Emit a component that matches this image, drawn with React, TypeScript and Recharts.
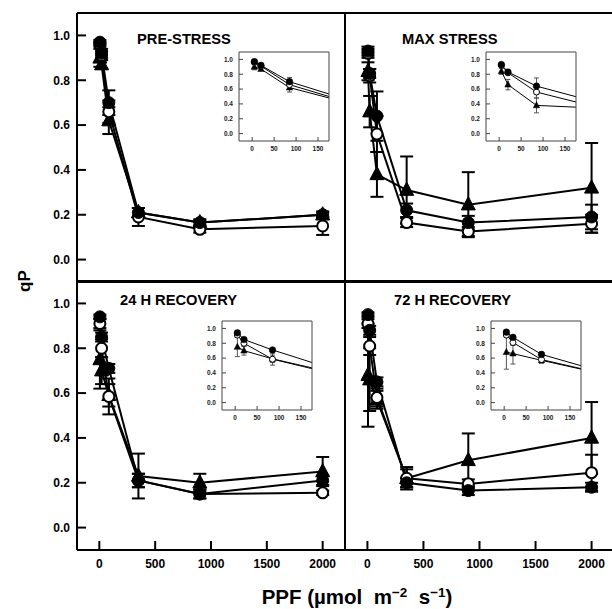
import React from 'react';
import { LineChart, Line, XAxis, YAxis, ErrorBar } from 'recharts';

// ---------- data ----------
const PPF = [5, 20, 85, 350, 900, 2000];
const X_TICKS = [0, 500, 1000, 1500, 2000];
const Y_TICKS = [0, 0.2, 0.4, 0.6, 0.8, 1.0];
const INSET_X_TICKS = [0, 50, 100, 150];

const PRE_FILLED = [0.97, 0.92, 0.70, 0.21, 0.165, 0.20];
const PRE_FILLED_ERR = [0.01, 0.02, 0.055, 0.02, 0.015, 0.015];
const PRE_OPEN = [0.96, 0.91, 0.66, 0.19, 0.135, 0.15];
const PRE_OPEN_ERR = [0.01, 0.02, 0.05, 0.04, 0.015, 0.04];
const PRE_TRI = [0.90, 0.87, 0.62, 0.21, 0.165, 0.20];
const PRE_TRI_ERR = [0.04, 0.02, 0.06, 0.02, 0.01, 0.01];

const MAX_FILLED = [0.93, 0.83, 0.64, 0.22, 0.165, 0.19];
const MAX_FILLED_ERR = [0.02, 0.02, 0.11, 0.03, 0.03, 0.055];
const MAX_OPEN = [0.92, 0.82, 0.56, 0.165, 0.125, 0.16];
const MAX_OPEN_ERR = [0.02, 0.03, 0.08, 0.02, 0.02, 0.04];
const MAX_TRI = [0.84, 0.66, 0.38, 0.31, 0.245, 0.32];
const MAX_TRI_ERR = [0.04, 0.07, 0.10, 0.15, 0.145, 0.20];

const R24_FILLED = [0.94, 0.85, 0.71, 0.21, 0.15, 0.21];
const R24_FILLED_ERR = [0.01, 0.02, 0.02, 0.03, 0.02, 0.02];
const R24_OPEN = [0.91, 0.80, 0.585, 0.21, 0.15, 0.155];
const R24_OPEN_ERR = [0.02, 0.04, 0.08, 0.03, 0.02, 0.01];
const R24_TRI = [0.75, 0.70, 0.59, 0.23, 0.20, 0.25];
const R24_TRI_ERR = [0.13, 0.06, 0.05, 0.10, 0.04, 0.065];

const R72_FILLED = [0.95, 0.88, 0.65, 0.20, 0.165, 0.18];
const R72_FILLED_ERR = [0.01, 0.02, 0.02, 0.02, 0.02, 0.02];
const R72_OPEN = [0.91, 0.81, 0.58, 0.22, 0.195, 0.245];
const R72_OPEN_ERR = [0.02, 0.04, 0.04, 0.05, 0.02, 0.08];
const R72_TRI = [0.68, 0.66, 0.57, 0.22, 0.30, 0.40];
const R72_TRI_ERR = [0.23, 0.14, 0.04, 0.04, 0.12, 0.16];

const TITLES = ['PRE-STRESS', 'MAX STRESS', '24 H RECOVERY', '72 H RECOVERY'];

type Row = { x: number; fc: number; fcE: number; oc: number; ocE: number; tr: number; trE: number };

function buildRows(fc: number[], fcE: number[], oc: number[], ocE: number[], tr: number[], trE: number[]): Row[] {
  return PPF.map((x, i) => ({ x, fc: fc[i], fcE: fcE[i], oc: oc[i], ocE: ocE[i], tr: tr[i], trE: trE[i] }));
}

const DATASETS: Row[][] = [
  buildRows(PRE_FILLED, PRE_FILLED_ERR, PRE_OPEN, PRE_OPEN_ERR, PRE_TRI, PRE_TRI_ERR),
  buildRows(MAX_FILLED, MAX_FILLED_ERR, MAX_OPEN, MAX_OPEN_ERR, MAX_TRI, MAX_TRI_ERR),
  buildRows(R24_FILLED, R24_FILLED_ERR, R24_OPEN, R24_OPEN_ERR, R24_TRI, R24_TRI_ERR),
  buildRows(R72_FILLED, R72_FILLED_ERR, R72_OPEN, R72_OPEN_ERR, R72_TRI, R72_TRI_ERR),
];

// ---------- layout ----------
const FONT = '"Liberation Sans", Arial, Helvetica, sans-serif';

const PANELS = [
  { left: 77, top: 13, w: 268, h: 269, showX: false, showY: true, inset: { left: 239, top: 52 }, title: { x: 137, y: 43.5 } },
  { left: 345, top: 13, w: 269, h: 269, showX: false, showY: false, inset: { left: 486, top: 52 }, title: { x: 402, y: 43.5 } },
  { left: 77, top: 281, w: 268, h: 269, showX: true, showY: true, inset: { left: 222, top: 321 }, title: { x: 120, y: 304.5 } },
  { left: 345, top: 281, w: 269, h: 269, showX: true, showY: false, inset: { left: 491, top: 321 }, title: { x: 394, y: 304.5 } },
];

const INSET_W = 90;
const INSET_H = 89;

const makeTri = (hw: number, sw: number) => (props: any) => {
  const { cx, cy, index } = props;
  if (cx == null || cy == null) return <g key={`t${index}`} />;
  const pts = `${cx},${cy - hw * 1.15} ${cx + hw},${cy + hw * 0.75} ${cx - hw},${cy + hw * 0.75}`;
  return <polygon key={`t${index}`} points={pts} fill="#000" stroke="#000" strokeWidth={sw} strokeLinejoin="round" />;
};

const fmt1 = (v: number) => v.toFixed(1);

function MainPanel({ p, data }: { p: typeof PANELS[number]; data: Row[] }) {
  const wl = p.showY ? 60 : 1;
  const wr = 1;
  const ht = 1;
  const hb = p.showX ? 30 : 1;
  const W = p.w + wl + wr;
  const H = p.h + ht + hb;
  const axisLine = { stroke: '#000', strokeWidth: 2 };
  const tickLine = { stroke: '#000', strokeWidth: 2 };
  const tickStyle = { fontSize: 12, fontWeight: 700, fill: '#000', fontFamily: FONT };
  return (
    <div style={{ position: 'absolute', left: p.left - wl, top: p.top - ht, width: W, height: H }}>
      <LineChart width={W} height={H} data={data} margin={{ top: 0, right: 0, bottom: 0, left: 0 }}>
        <XAxis xAxisId="b" type="number" dataKey="x" orientation="bottom" domain={[-200, 2200]} ticks={X_TICKS}
          interval={0} allowDataOverflow height={hb} tickSize={-9} tickMargin={18}
          tick={p.showX ? tickStyle : false} axisLine={axisLine} tickLine={tickLine} />
        <XAxis xAxisId="t" type="number" dataKey="x" orientation="top" domain={[-200, 2200]} ticks={X_TICKS}
          interval={0} allowDataOverflow height={ht} tickSize={-9} tick={false} axisLine={axisLine} tickLine={tickLine} />
        <YAxis yAxisId="l" type="number" orientation="left" domain={[-0.1, 1.1]} ticks={Y_TICKS} interval={0}
          allowDataOverflow width={wl} tickSize={-9} tickMargin={16} tickFormatter={fmt1}
          tick={p.showY ? tickStyle : false} axisLine={axisLine} tickLine={tickLine} />
        <YAxis yAxisId="r" type="number" orientation="right" domain={[-0.1, 1.1]} ticks={Y_TICKS} interval={0}
          allowDataOverflow width={wr} tickSize={-9} tick={false} axisLine={axisLine} tickLine={tickLine} />
        <Line xAxisId="b" yAxisId="l" dataKey="tr" stroke="#000" strokeWidth={2} isAnimationActive={false}
          dot={makeTri(7, 1)} activeDot={false}>
          <ErrorBar dataKey="trE" direction="y" width={6.5} stroke="#000" strokeWidth={2} />
        </Line>
        <Line xAxisId="b" yAxisId="l" dataKey="oc" stroke="#000" strokeWidth={2} isAnimationActive={false}
          dot={{ r: 5.5, fill: '#fff', stroke: '#000', strokeWidth: 2 }} activeDot={false}>
          <ErrorBar dataKey="ocE" direction="y" width={6.5} stroke="#000" strokeWidth={2} />
        </Line>
        <Line xAxisId="b" yAxisId="l" dataKey="fc" stroke="#000" strokeWidth={2} isAnimationActive={false}
          dot={{ r: 6, fill: '#000', stroke: '#000', strokeWidth: 1 }} activeDot={false}>
          <ErrorBar dataKey="fcE" direction="y" width={6.5} stroke="#000" strokeWidth={2} />
        </Line>
      </LineChart>
    </div>
  );
}

function InsetPanel({ p, data }: { p: typeof PANELS[number]; data: Row[] }) {
  const wl = 22;
  const wr = 1;
  const ht = 1;
  const hb = 16;
  const W = INSET_W + wl + wr;
  const H = INSET_H + ht + hb;
  const axisLine = { stroke: '#444', strokeWidth: 1 };
  const tickLine = { stroke: '#444', strokeWidth: 1 };
  const tickStyle = { fontSize: 6.5, fontWeight: 700, fill: '#222', fontFamily: FONT };
  const L = p.inset.left;
  const T = p.inset.top;
  return (
    <>
      <div style={{ position: 'absolute', left: L, top: T, width: INSET_W, height: INSET_H, background: '#fff' }} />
      <div style={{ position: 'absolute', left: L - wl, top: T - ht, width: W, height: H }}>
        <LineChart width={W} height={H} data={data} margin={{ top: 0, right: 0, bottom: 0, left: 0 }}>
          <XAxis xAxisId="b" type="number" dataKey="x" orientation="bottom" domain={[-30, 175]} ticks={INSET_X_TICKS}
            interval={0} allowDataOverflow height={hb} tickSize={-4} tickMargin={9}
            tick={tickStyle} axisLine={axisLine} tickLine={tickLine} />
          <XAxis xAxisId="t" type="number" dataKey="x" orientation="top" domain={[-30, 175]} ticks={INSET_X_TICKS}
            interval={0} allowDataOverflow height={ht} tickSize={-4} tick={false} axisLine={axisLine} tickLine={tickLine} />
          <YAxis yAxisId="l" type="number" orientation="left" domain={[-0.1, 1.1]} ticks={Y_TICKS} interval={0}
            allowDataOverflow width={wl} tickSize={-4} tickMargin={10} tickFormatter={fmt1}
            tick={tickStyle} axisLine={axisLine} tickLine={tickLine} />
          <YAxis yAxisId="r" type="number" orientation="right" domain={[-0.1, 1.1]} ticks={Y_TICKS} interval={0}
            allowDataOverflow width={wr} tickSize={-4} tick={false} axisLine={axisLine} tickLine={tickLine} />
          <Line xAxisId="b" yAxisId="l" dataKey="tr" stroke="#000" strokeWidth={1} isAnimationActive={false}
            dot={makeTri(3.2, 0.5)} activeDot={false}>
            <ErrorBar dataKey="trE" direction="y" width={2.5} stroke="#555" strokeWidth={1} />
          </Line>
          <Line xAxisId="b" yAxisId="l" dataKey="oc" stroke="#000" strokeWidth={1} isAnimationActive={false}
            dot={{ r: 3, fill: '#fff', stroke: '#000', strokeWidth: 1 }} activeDot={false}>
            <ErrorBar dataKey="ocE" direction="y" width={2.5} stroke="#555" strokeWidth={1} />
          </Line>
          <Line xAxisId="b" yAxisId="l" dataKey="fc" stroke="#000" strokeWidth={1} isAnimationActive={false}
            dot={{ r: 3.3, fill: '#000', stroke: '#000', strokeWidth: 0.5 }} activeDot={false}>
            <ErrorBar dataKey="fcE" direction="y" width={2.5} stroke="#555" strokeWidth={1} />
          </Line>
        </LineChart>
      </div>
    </>
  );
}

export default function App() {
  return (
    <div style={{ position: 'absolute', left: 0, top: 0, width: 612, height: 609, background: '#fff', overflow: 'hidden', fontFamily: FONT }}>
      {PANELS.map((p, i) => (
        <MainPanel key={`m${i}`} p={p} data={DATASETS[i]} />
      ))}
      {PANELS.map((p, i) => (
        <InsetPanel key={`i${i}`} p={p} data={DATASETS[i]} />
      ))}
      <svg width={612} height={609} style={{ position: 'absolute', left: 0, top: 0, pointerEvents: 'none' }}>
        {PANELS.map((p, i) => (
          <text key={`tt${i}`} x={p.title.x} y={p.title.y} fontSize={14.7} fontWeight={700} fontFamily={FONT} fill="#000">
            {TITLES[i]}
          </text>
        ))}
        <text x={30} y={281} transform="rotate(-90, 30, 281)" textAnchor="middle" fontSize={17} fontWeight={700} fontFamily={FONT} fill="#000">
          qP
        </text>
        <text x={357} y={604} textAnchor="middle" fontSize={20.5} fontWeight={700} fontFamily={FONT} fill="#000" style={{ whiteSpace: 'pre' }}>
          {'PPF (µmol  m'}
          <tspan dy={-7.5} fontSize={13.5}>{'−2'}</tspan>
          <tspan dy={7.5}>{'  s'}</tspan>
          <tspan dy={-7.5} fontSize={13.5}>{'−1'}</tspan>
          <tspan dy={7.5}>{')'}</tspan>
        </text>
      </svg>
    </div>
  );
}
